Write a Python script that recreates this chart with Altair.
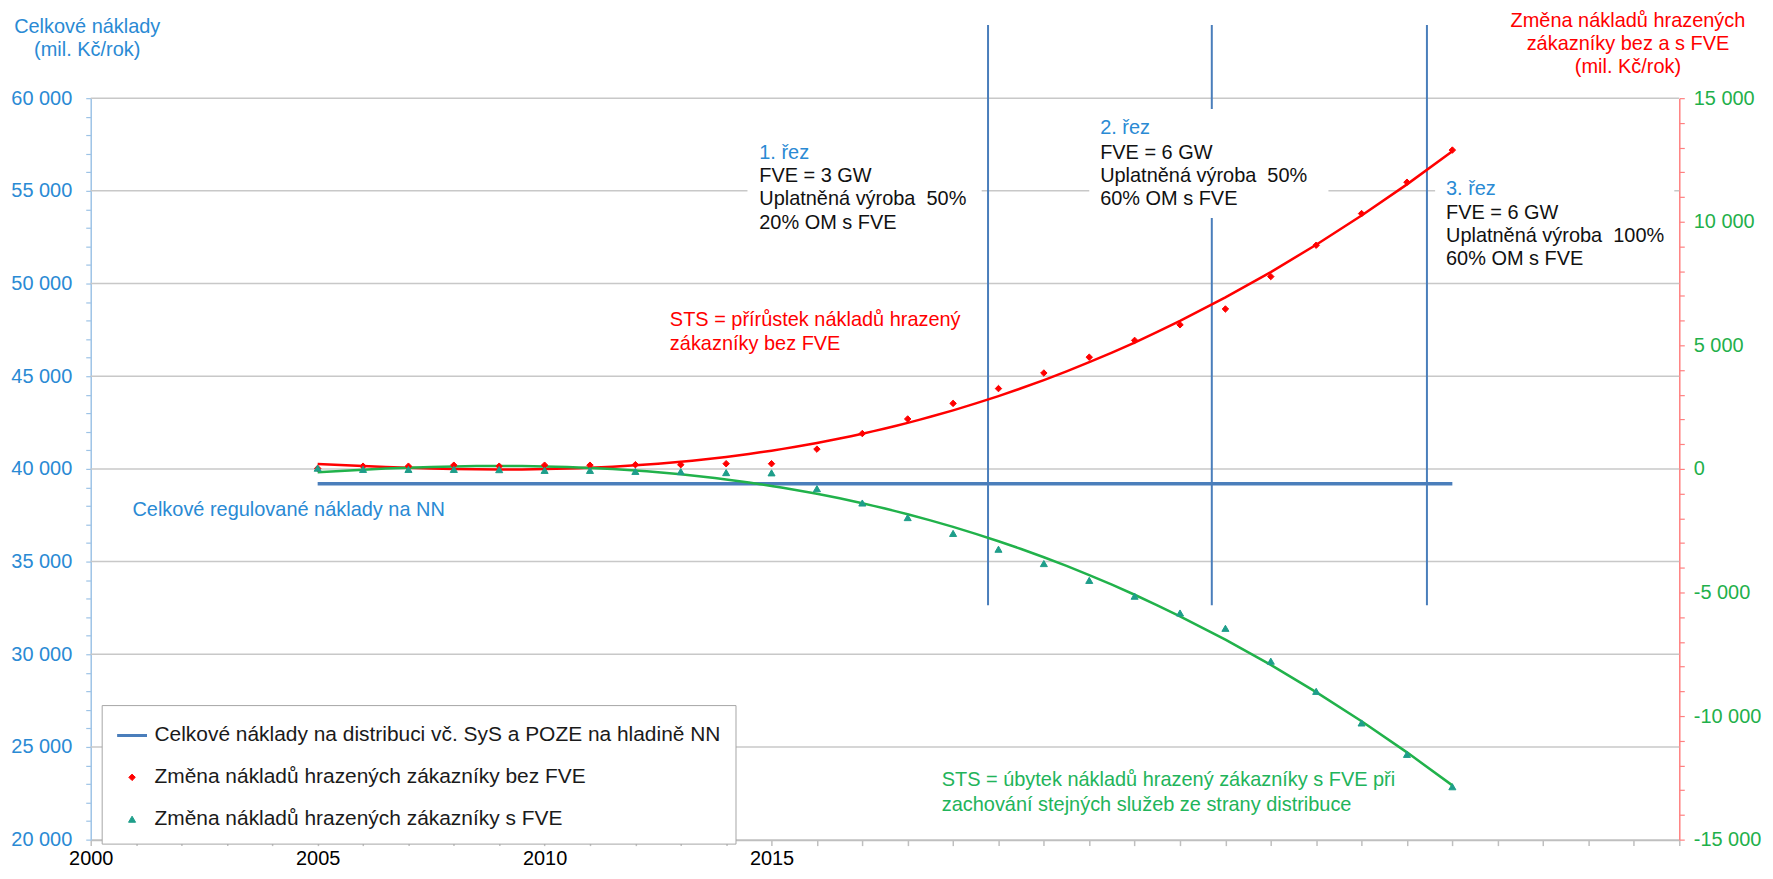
import altair as alt
import pandas as pd

FONT = "Liberation Sans, Arial, Helvetica, sans-serif"

# ---------------- data ----------------
years = list(range(2005, 2031))
red_values = [20, 110, 110, 150, 110, 150, 150, 170, 170, 210, 210,
              800, 1430, 2020, 2650, 3250, 3880, 4520, 5200, 5830, 6470,
              7780, 9050, 10330, 11600, 12900]
green_values = [30, -20, -20, -20, -30, -60, -60, -100, -110, -150, -160,
                 -800, -1380, -1970, -2610, -3250, -3830, -4510, -5150, -5830, -6450,
                 -7780, -9000, -10280, -11550, -12860]
blue_years = [2005, 2030]
blue_values = [39200, 39200]

grid_values = [25000, 30000, 35000, 40000, 45000, 50000, 55000, 60000]

cut_years = [2019.77, 2024.70, 2029.44]
cut_bottom = [32650, 32650, 32650]
cut_top = [63950, 63950, 63950]

box_x = [2014.47, 2022.00, 2029.62]
box_x2 = [2019.63, 2027.27, 2034.89]
box_y = [57968, 59412, 55668]
box_y2 = [52620, 53530, 50642]

S_BLUE = "Celkové náklady na distribuci vč. SyS a POZE na hladině NN"
S_RED = "Změna nákladů hrazených zákazníky bez FVE"
S_GREEN = "Změna nákladů hrazených zákazníky s FVE"

C_BLUE_LINE = "#4a7ebb"
C_BLUE_TXT = "#2a8ad4"
C_RED = "#ff0000"
C_GREEN_LINE = "#21b24b"
C_GREEN_PT = "#1e9e8a"
C_GREEN_TXT = "#22b45a"
C_BLACK = "#111111"

txt_x = [2014.73, 2014.73, 2014.73, 2014.73,
         2022.24, 2022.24, 2022.24, 2022.24,
         2029.86, 2029.86, 2029.86, 2029.86,
         2012.76, 2012.76,
         2000.92,
         2018.75, 2018.75]
txt_y = [57059, 55775, 54545, 53262,
         58396, 57059, 55775, 54545,
         55080, 53823, 52567, 51310,
         48021, 46738,
         37791,
         23209, 21872]
txt_t = ["1. řez", "FVE = 3 GW", "Uplatněná výroba\u00a0 50%", "20% OM s FVE",
         "2. řez", "FVE = 6 GW", "Uplatněná výroba\u00a0 50%", "60% OM s FVE",
         "3. řez", "FVE = 6 GW", "Uplatněná výroba\u00a0 100%", "60% OM s FVE",
         "STS = přírůstek nákladů hrazený", "zákazníky bez FVE",
         "Celkové regulované náklady na NN",
         "STS = úbytek nákladů hrazený zákazníky s FVE při",
         "zachování stejných služeb ze strany distribuce"]
txt_c = [C_BLUE_TXT, C_BLACK, C_BLACK, C_BLACK,
         C_BLUE_TXT, C_BLACK, C_BLACK, C_BLACK,
         C_BLUE_TXT, C_BLACK, C_BLACK, C_BLACK,
         C_RED, C_RED,
         C_BLUE_TXT,
         C_GREEN_TXT, C_GREEN_TXT]

# ---------------- tables ----------------
df_red = pd.DataFrame({"year": years, "value": red_values, "series": S_RED})
df_green = pd.DataFrame({"year": years, "value": green_values, "series": S_GREEN})
df_pts = pd.concat([df_red, df_green], ignore_index=True)
df_blue = pd.DataFrame({"year": blue_years, "v": blue_values})
df_grid = pd.DataFrame({"v": grid_values})
df_cut = pd.DataFrame({"year": cut_years, "v": cut_bottom, "v2": cut_top})
df_box = pd.DataFrame({"year": box_x, "year2": box_x2, "v": box_y, "v2": box_y2})
df_txt = pd.DataFrame({"year": txt_x, "v": txt_y, "t": txt_t, "c": txt_c})

# ---------------- scales / axes ----------------
xscale = alt.Scale(domain=[2000, 2035], nice=False, zero=False)
x_axis = alt.Axis(
    values=list(range(2000, 2036)), format="d",
    labelExpr="(datum.value % 5 == 0 && datum.value <= 2015) ? datum.label : ''",
    grid=False, domainColor="#bfbfbf", domainWidth=2,
    tickColor="#bfbfbf", tickSize=6, tickWidth=1.5,
    labelFont=FONT, labelFontSize=20, labelColor="#000000", labelPadding=3,
    labelOverlap=False, labelFlush=False, title=None,
)

yl_scale = alt.Scale(domain=[20000, 60000], nice=False, zero=False)
yl_axis = alt.Axis(
    orient="left", values=list(range(20000, 60001, 1000)),
    labelExpr="datum.value % 5000 == 0 ? replace(format(datum.value, ','), ',', ' ') : ''",
    grid=False, domainColor="#9dc3e6", domainWidth=1.5,
    tickColor="#9dc3e6", tickSize=5, tickWidth=1.2,
    labelFont=FONT, labelFontSize=20, labelColor=C_BLUE_TXT, labelPadding=14,
    labelOverlap=False,
    title=["Celkové náklady", "(mil. Kč/rok)"], titleAngle=0, titleX=-4, titleY=-66,
    titleAlign="center", titleBaseline="alphabetic", titleColor=C_BLUE_TXT,
    titleFont=FONT, titleFontSize=20, titleFontWeight="normal", titleLineHeight=23,
)

yr_scale = alt.Scale(domain=[-15000, 15000], nice=False, zero=False)
yr_axis = alt.Axis(
    orient="right", values=list(range(-15000, 15001, 1000)),
    labelExpr="datum.value % 5000 == 0 ? ((datum.value < 0 ? '-' : '') + replace(format(abs(datum.value), ','), ',', ' ')) : ''",
    grid=False, domainColor="#ff8080", domainWidth=1.5,
    tickColor="#ff8080", tickSize=5, tickWidth=1.2,
    labelFont=FONT, labelFontSize=20, labelColor="#1fb04b", labelPadding=9,
    labelOverlap=False,
    title=["Změna nákladů hrazených", "zákazníky bez a s FVE", "(mil. Kč/rok)"],
    titleAngle=0, titleX=-52, titleY=-72, titleAlign="center", titleBaseline="alphabetic",
    titleColor=C_RED, titleFont=FONT, titleFontSize=20, titleFontWeight="normal",
    titleLineHeight=23,
)


def X(field="year"):
    return alt.X(f"{field}:Q", scale=xscale, axis=x_axis)


def YL():
    return alt.Y("v:Q", scale=yl_scale, axis=yl_axis)


def YR():
    return alt.Y("value:Q", scale=yr_scale, axis=yr_axis)


# ---------------- left group ----------------
grid = alt.Chart(df_grid).mark_rule(color="#c8c8c8", strokeWidth=1.5).encode(y=YL())
blue = alt.Chart(df_blue).mark_line(color=C_BLUE_LINE, strokeWidth=3.5).encode(x=X(), y=YL())
cuts = alt.Chart(df_cut).mark_rule(color=C_BLUE_LINE, strokeWidth=2).encode(
    x=X(), y=YL(), y2=alt.Y2("v2"))
boxes = alt.Chart(df_box).mark_rect(fill="white").encode(
    x=X(), x2=alt.X2("year2"), y=YL(), y2=alt.Y2("v2"))
texts = alt.Chart(df_txt).mark_text(align="left", baseline="middle", font=FONT, fontSize=20).encode(
    x=X(), y=YL(), text="t:N", color=alt.Color("c:N", scale=None))

left = alt.layer(grid, blue, cuts, boxes, texts)

# ---------------- right group ----------------
names = [S_BLUE, S_RED, S_GREEN]
leg = alt.Legend(
    title=None, orient="none", legendX=11, legendY=609, direction="vertical",
    fillColor="white", strokeColor="#a6a6a6", padding=14, rowPadding=20,
    labelFont=FONT, labelFontSize=21, labelColor="#1a1a1a", labelLimit=1000,
    labelOffset=6, symbolOpacity=1,
)
cs = alt.Scale(domain=names, range=[C_BLUE_LINE, C_RED, C_GREEN_PT])
ss = alt.Scale(domain=names, range=["stroke", "diamond", "triangle-up"])
sz = alt.Scale(type="ordinal", domain=names, range=[900, 42, 50])
sw = alt.Scale(type="ordinal", domain=names, range=[3, 1, 1])

red_trend = alt.Chart(df_red).transform_regression(
    "year", "value", method="poly", order=4).mark_line(
    color=C_RED, strokeWidth=2.5).encode(x=X(), y=YR())
green_trend = alt.Chart(df_green).transform_regression(
    "year", "value", method="poly", order=4).mark_line(
    color=C_GREEN_LINE, strokeWidth=2.5).encode(x=X(), y=YR())
points = alt.Chart(df_pts).mark_point(filled=True, opacity=1).encode(
    x=X(), y=YR(),
    fill=alt.Fill("series:N", scale=cs, legend=leg),
    stroke=alt.Stroke("series:N", scale=cs, legend=leg),
    shape=alt.Shape("series:N", scale=ss, legend=leg),
    size=alt.Size("series:N", scale=sz, legend=leg),
    strokeWidth=alt.StrokeWidth("series:N", scale=sw, legend=leg),
)

right = alt.layer(red_trend, green_trend, points)

chart = alt.layer(left, right).resolve_scale(y="independent").properties(
    width=1594, height=744,
    padding={"left": 83, "top": 89, "right": 86, "bottom": 30},
    autosize=alt.AutoSizeParams(type="none"),
    background="white",
).configure_view(stroke=None)

chart.save("out.html", embed_options={"renderer": "svg", "actions": False})
